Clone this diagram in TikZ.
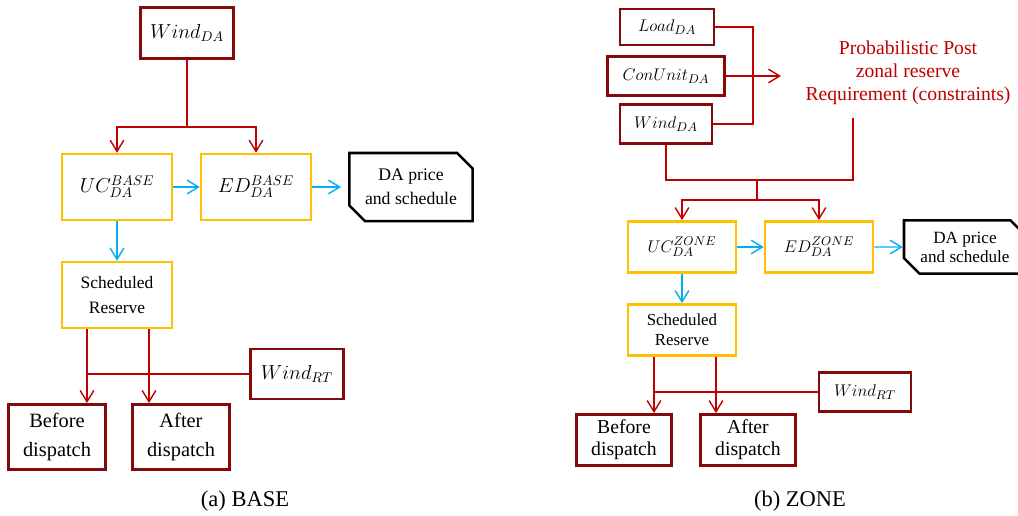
\documentclass[tikz,border=0pt]{standalone}
\usepackage{fontspec}
\setmainfont{Liberation Serif}
\usepackage{tikz}
\usetikzlibrary{positioning, arrows.meta, calc, shapes.misc}
\definecolor{boxred}{RGB}{130,10,10}
\definecolor{linered}{RGB}{192,0,0}
\definecolor{optyel}{RGB}{255,192,0}
\definecolor{flowblue}{RGB}{0,176,240}
\tikzset{
  inbox/.style={draw=boxred,line width=1.9pt,inner sep=1pt,align=center},
  optbox/.style={draw=optyel,line width=1.8pt,inner sep=1pt,align=center},
  outbox/.style={draw=black,line width=1.8pt,inner sep=1pt,align=center,chamfered rectangle,
    chamfered rectangle corners={north east,south west},chamfered rectangle xsep=5.5pt,chamfered rectangle ysep=5.5pt},
  redline/.style={draw=linered,line width=1pt},
  blueline/.style={draw=flowblue,line width=1pt,->},
}

\begin{document}
\begin{tikzpicture}[x=0.025cm,y=-0.025cm,>={Straight Barb[length=2.8mm,width=3.4mm]}]
  \useasboundingbox (0,0) rectangle (1018,515);
  % (a) BASE
  \node[inbox,font=\fontsize{14.5}{17}\selectfont,minimum width=2.33cm,minimum height=1.28cm] (windA) at (187,33) {$Wind_{DA}$};
  \node[optbox,font=\fontsize{14.5}{17}\selectfont,minimum width=2.75cm,minimum height=1.65cm] (ucA) at (117,187) {$UC_{DA}^{BASE}$};
  \node[optbox,font=\fontsize{14.5}{17}\selectfont,minimum width=2.75cm,minimum height=1.65cm] (edA) at (256,187) {$ED_{DA}^{BASE}$};
  \node[outbox,font=\fontsize{12.6}{17}\selectfont,minimum width=3.08cm,minimum height=1.7cm] (daA) at (411,187) {DA price\\and schedule};
  \node[optbox,font=\fontsize{12.4}{17.7}\selectfont,minimum width=2.75cm,minimum height=1.65cm] (resA) at (117,295) {Scheduled\\Reserve};
  \node[inbox,font=\fontsize{14.5}{17}\selectfont,minimum width=2.33cm,minimum height=1.25cm] (rtA) at (297,374) {$Wind_{RT}$};
  \node[inbox,font=\fontsize{14.5}{20}\selectfont,minimum width=2.43cm,minimum height=1.63cm] (befA) at (57,437) {Before\\dispatch};
  \node[inbox,font=\fontsize{14.5}{20}\selectfont,minimum width=2.43cm,minimum height=1.63cm] (aftA) at (181,437) {After\\dispatch};
  \node[font=\fontsize{16}{19}\selectfont] (capA) at (245,501) {(a) BASE};
  \coordinate (jA) at (187,127);
  \coordinate (bA) at ($(befA.north)+(30,0)$);
  \coordinate (aA) at ($(aftA.north)+(-32,0)$);
  \coordinate (tipA) at (341,187);
  \draw[redline] (windA) -- (jA);
  \draw[redline,->] (jA) -| (ucA);
  \draw[redline,->] (jA) -| (edA);
  \draw[blueline] (ucA) -- (edA);
  \draw[blueline] (edA) -- (tipA);
  \draw[blueline] (ucA) -- (resA);
  \draw[redline,->] (resA.south -| bA) -- (bA);
  \draw[redline,->] (resA.south -| aA) -- (aA);
  \draw[redline] (rtA.west) -- (rtA.west -| bA);

  % (b) ZONE
  \node[inbox,font=\fontsize{13.2}{15}\selectfont,minimum width=2.35cm,minimum height=0.9cm] (loadB) at (667,27) {$Load_{DA}$};
  \node[inbox,font=\fontsize{13.2}{15}\selectfont,minimum width=2.93cm,minimum height=0.98cm] (conB) at (666,76) {$ConUnit_{DA}$};
  \node[inbox,font=\fontsize{13.2}{15}\selectfont,minimum width=2.3cm,minimum height=0.98cm] (windB) at (666,124) {$Wind_{DA}$};
  \node[text=linered,align=center,font=\fontsize{14}{16.3}\selectfont] (reqB) at (908,73) {Probabilistic Post\\zonal reserve\\Requirement (constraints)};
  \node[optbox,font=\fontsize{13}{15}\selectfont,minimum width=2.7cm,minimum height=1.28cm] (ucB) at (682,247) {$UC_{DA}^{ZONE}$};
  \node[optbox,font=\fontsize{13}{15}\selectfont,minimum width=2.7cm,minimum height=1.28cm] (edB) at (819,247) {$ED_{DA}^{ZONE}$};
  \node[outbox,font=\fontsize{12.2}{13.5}\selectfont,minimum width=3.05cm,minimum height=1.33cm] (daB) at (965,247) {DA price\\and schedule};
  \node[optbox,font=\fontsize{12}{14}\selectfont,minimum width=2.7cm,minimum height=1.28cm] (resB) at (682,330) {Scheduled\\Reserve};
  \node[inbox,font=\fontsize{13.2}{15}\selectfont,minimum width=2.3cm,minimum height=0.98cm] (rtB) at (865,392) {$Wind_{RT}$};
  \node[inbox,font=\fontsize{14}{15.5}\selectfont,minimum width=2.38cm,minimum height=1.28cm] (befB) at (624,440) {Before\\dispatch};
  \node[inbox,font=\fontsize{14}{15.5}\selectfont,minimum width=2.38cm,minimum height=1.28cm] (aftB) at (748,440) {After\\dispatch};
  \node[font=\fontsize{16}{19}\selectfont] (capB) at (800,501) {(b) ZONE};
  \coordinate (vB) at (753,0);
  \coordinate (tipB) at (781,76);
  \coordinate (rqB) at (853,118);
  \coordinate (jB) at (757,180);
  \coordinate (kB) at (757,200);
  \coordinate (bB) at ($(befB.north)+(30,0)$);
  \coordinate (aB) at ($(aftB.north)+(-32,0)$);
  \draw[redline] (loadB.east) -- (loadB.east -| vB) -- (windB.east -| vB) -- (windB.east);
  \draw[redline,->] (conB.east) -- (tipB);
  \draw[redline] (rqB) |- (windB.south |- jB) -- (windB.south);
  \draw[redline] (jB) -- (kB);
  \draw[redline,->] (kB) -| (ucB);
  \draw[redline,->] (kB) -| (edB);
  \draw[blueline] (ucB) -- (edB);
  \draw[blueline] (edB) -- (daB);
  \draw[blueline] (ucB) -- (resB);
  \draw[redline,->] (resB.south -| bB) -- (bB);
  \draw[redline,->] (resB.south -| aB) -- (aB);
  \draw[redline] (rtB.west) -- (rtB.west -| bB);
\end{tikzpicture}
\end{document}
